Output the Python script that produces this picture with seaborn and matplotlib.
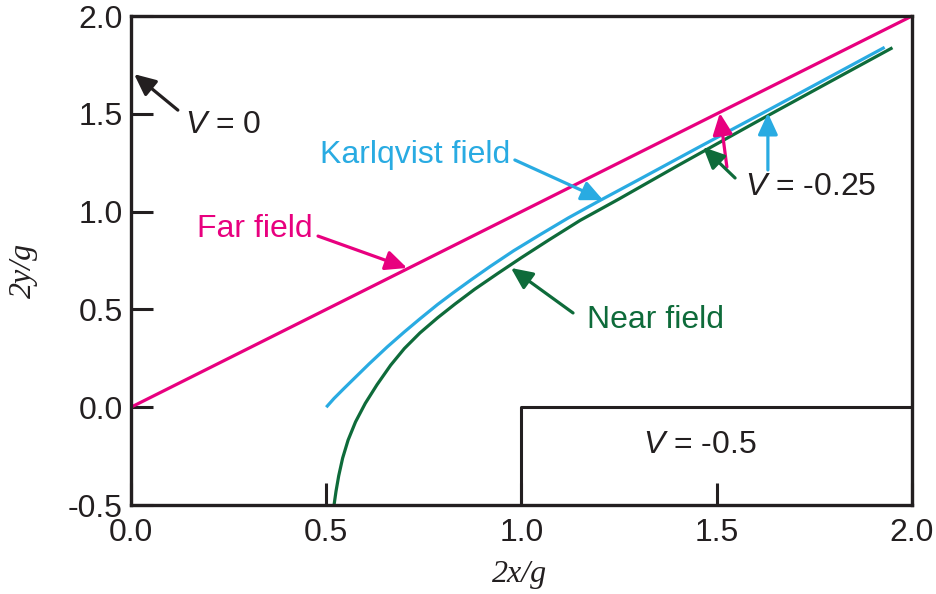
import numpy as np
import pandas as pd
import matplotlib
matplotlib.use('Agg')
import matplotlib.pyplot as plt
import seaborn as sns

# curves (x = 2x/g, y = 2y/g)
far_x = [0.0, 2.0]
far_y = [0.0, 2.0]

karl_x = [0.50, 0.52, 0.545, 0.568, 0.61, 0.656, 0.70, 0.74, 0.785, 0.825, 0.87, 0.92,
          0.98, 1.05, 1.12, 1.20, 1.30, 1.45, 1.63, 1.80, 1.93]
karl_y = [0.00, 0.045, 0.095, 0.14, 0.222, 0.308, 0.385, 0.452, 0.525, 0.585, 0.65, 0.72,
          0.80, 0.885, 0.968, 1.056, 1.163, 1.325, 1.517, 1.70, 1.84]

near_x = [0.52, 0.525, 0.532, 0.542, 0.556, 0.575, 0.60, 0.63, 0.665, 0.70, 0.74, 0.785,
          0.83, 0.88, 0.94, 1.00, 1.07, 1.15, 1.25, 1.40, 1.60, 1.80, 1.95]
near_y = [-0.50, -0.43, -0.35, -0.26, -0.168, -0.075, 0.02, 0.115, 0.215, 0.30, 0.38, 0.457,
          0.528, 0.603, 0.685, 0.765, 0.855, 0.955, 1.065, 1.235, 1.457, 1.675, 1.838]

# V = -0.5 electrode outline
box_x = [1.0, 1.0, 2.0]
box_y = [-0.5, 0.0, 0.0]

yticks = [-0.5, 0.0, 0.5, 1.0, 1.5, 2.0]
xticks = [0.0, 0.5, 1.0, 1.5, 2.0]

PINK = '#E8007F'
BLUE = '#29ABE2'
GREEN = '#0E6B3A'
INK = '#231F20'

sns.set_style('ticks')
plt.rcParams['font.family'] = ['Liberation Sans', 'DejaVu Sans']
plt.rcParams['mathtext.fontset'] = 'custom'
plt.rcParams['mathtext.it'] = 'Liberation Sans:italic'
plt.rcParams['mathtext.rm'] = 'Liberation Sans'

fig = plt.figure(figsize=(9.37, 5.94), dpi=100)
ax = fig.add_axes([0.1398, 0.1498, 0.8335, 0.8232])

lw = 2.3
sns.lineplot(x=far_x, y=far_y, ax=ax, color=PINK, lw=lw, sort=False, estimator=None)
sns.lineplot(x=karl_x, y=karl_y, ax=ax, color=BLUE, lw=lw, sort=False, estimator=None)
sns.lineplot(x=near_x, y=near_y, ax=ax, color=GREEN, lw=lw, sort=False, estimator=None)
sns.lineplot(x=box_x, y=box_y, ax=ax, color=INK, lw=2.2, sort=False, estimator=None)
for ln in ax.lines:
    ln.set_clip_on(False)
    ln.set_solid_capstyle('butt')
    ln.set_solid_joinstyle('round')

ax.set_xlim(0, 2)
ax.set_ylim(-0.5, 2)
ax.set_xticks(xticks)
ax.set_yticks(yticks)
ax.set_xticklabels([f'{t:.1f}' for t in xticks])
ax.set_yticklabels([f'{t:.1f}' for t in yticks])
ax.tick_params(direction='in', length=16, width=2.2, colors=INK, labelsize=23)
ax.tick_params(axis='y', pad=6)
ax.tick_params(axis='x', pad=9)
for s in ax.spines.values():
    s.set_linewidth(2.4)
    s.set_color(INK)

ax.set_xlabel('')
ax.set_ylabel('')
fig.text(0.555, 0.032, '2x/g', family='Liberation Serif', style='italic', fontsize=23,
         color=INK, ha='center', va='center')
fig.text(0.025, 0.545, '2y/g', family='Liberation Serif', style='italic', fontsize=23,
         color=INK, ha='center', va='center', rotation=90)


def arrow(xy, xytext, color):
    ax.annotate('', xy=xy, xytext=xytext,
                arrowprops=dict(arrowstyle='-|>,head_length=0.65,head_width=0.3',
                                color=color, lw=2.3, mutation_scale=20,
                                shrinkA=0, shrinkB=0), annotation_clip=False)


fs = 23
ax.text(0.138, 1.443, '$V$ = 0', fontsize=fs, color=INK, ha='left', va='center')
arrow((0.008, 1.703), (0.120, 1.519), INK)

ax.text(0.318, 0.911, 'Far field', fontsize=fs, color=PINK, ha='center', va='center')
arrow((0.707, 0.712), (0.479, 0.875), PINK)

ax.text(0.484, 1.289, 'Karlqvist field', fontsize=fs, color=BLUE, ha='left', va='center')
arrow((1.209, 1.059), (0.983, 1.264), BLUE)

ax.text(1.168, 0.446, 'Near field', fontsize=fs, color=GREEN, ha='left', va='center')
arrow((0.973, 0.712), (1.132, 0.482), GREEN)

ax.text(1.572, 1.126, '$V$ = -0.25', fontsize=fs, color=INK, ha='left', va='center')
arrow((1.508, 1.504), (1.526, 1.228), PINK)
arrow((1.631, 1.504), (1.631, 1.213), BLUE)
arrow((1.465, 1.330), (1.547, 1.172), GREEN)

ax.text(1.457, -0.193, '$V$ = -0.5', fontsize=fs, color=INK, ha='center', va='center')

fig.savefig('out.png', dpi=100)
